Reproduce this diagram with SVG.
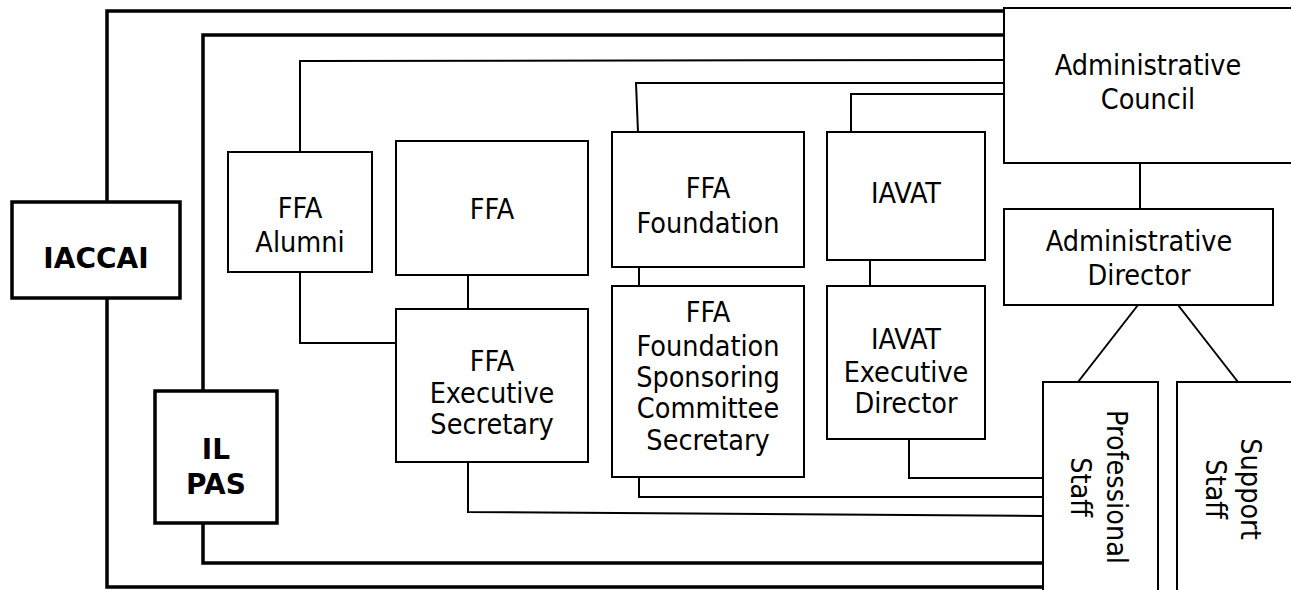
<svg xmlns="http://www.w3.org/2000/svg" width="1291" height="590" viewBox="0 0 1291 590">
<style>
.bg{fill:#ffffff}
.box{fill:#ffffff;stroke:#000;stroke-width:2}
.bold-box{fill:#ffffff;stroke:#000;stroke-width:3.5}
.thin{fill:none;stroke:#000;stroke-width:2}
.thick{fill:none;stroke:#000;stroke-width:3.5}
text{font-family:"DejaVu Sans Condensed","DejaVu Sans",sans-serif;font-stretch:condensed;font-size:28.5px;fill:#000;text-anchor:middle}
.b{font-family:"DejaVu Sans",sans-serif;font-stretch:normal;font-weight:bold;font-size:28px}
</style>
<rect class="bg" x="0" y="0" width="1291" height="590"/>
<g id="connectors">
<path class="thick" d="M1004,11 H107 V202 M107,298 V587 H1043"/>
<path class="thick" d="M1004,35 H203 V391 M203,523 V563 H1043"/>
<path class="thin" d="M1004,60 L300,61 V152 M300,272 V343 H396"/>
<path class="thin" d="M468,275 V309"/>
<path class="thin" d="M468,462 V512 L1043,516"/>
<path class="thin" d="M1004,83 H636 L638,132"/>
<path class="thin" d="M639,267 V286"/>
<path class="thin" d="M639,477 V497 H1043"/>
<path class="thin" d="M1004,94 H851 V132"/>
<path class="thin" d="M870,260 V286"/>
<path class="thin" d="M909,439 V478 H1043"/>
<path class="thin" d="M1140,163 V209"/>
<path class="thin" d="M1138,305 L1078,382"/>
<path class="thin" d="M1178,305 L1238,382"/>
</g>
<g id="iaccai"><rect class="bold-box" x="12" y="202" width="168" height="96"/><text class="b" x="96" y="268">IACCAI</text></g>
<g id="ilpas"><rect class="bold-box" x="155" y="391" width="122" height="132"/><text class="b" x="216" y="459">IL</text><text class="b" x="216" y="494">PAS</text></g>
<g id="ffa-alumni"><rect class="box" x="228" y="152" width="144" height="120"/><text x="300" y="218">FFA</text><text x="300" y="252">Alumni</text></g>
<g id="ffa"><rect class="box" x="396" y="141" width="192" height="134"/><text x="492" y="219">FFA</text></g>
<g id="ffa-exec-sec"><rect class="box" x="396" y="309" width="192" height="153"/><text x="492" y="371">FFA</text><text x="492" y="403">Executive</text><text x="492" y="434">Secretary</text></g>
<g id="ffa-foundation"><rect class="box" x="612" y="132" width="192" height="135"/><text x="708" y="198">FFA</text><text x="708" y="233">Foundation</text></g>
<g id="ffa-foundation-scs"><rect class="box" x="612" y="286" width="192" height="191"/><text x="708" y="322">FFA</text><text x="708" y="356">Foundation</text><text x="708" y="387">Sponsoring</text><text x="708" y="418">Committee</text><text x="708" y="450">Secretary</text></g>
<g id="iavat"><rect class="box" x="827" y="132" width="158" height="128"/><text x="906" y="203">IAVAT</text></g>
<g id="iavat-ed"><rect class="box" x="827" y="286" width="158" height="153"/><text x="906" y="349">IAVAT</text><text x="906" y="382">Executive</text><text x="906" y="413">Director</text></g>
<g id="admin-council"><rect class="box" x="1004" y="8" width="300" height="155"/><text x="1148" y="75">Administrative</text><text x="1148" y="109">Council</text></g>
<g id="admin-director"><rect class="box" x="1004" y="209" width="269" height="96"/><text x="1139" y="251">Administrative</text><text x="1139" y="285">Director</text></g>
<g id="professional-staff"><rect class="box" x="1043" y="382" width="115" height="230"/><g transform="translate(1107,487) rotate(90)"><text x="0" y="0">Professional</text><text x="0" y="36">Staff</text></g></g>
<g id="support-staff"><rect class="box" x="1177" y="382" width="130" height="230"/><g transform="translate(1241,489) rotate(90)"><text x="0" y="0">Support</text><text x="0" y="35">Staff</text></g></g>
</svg>
